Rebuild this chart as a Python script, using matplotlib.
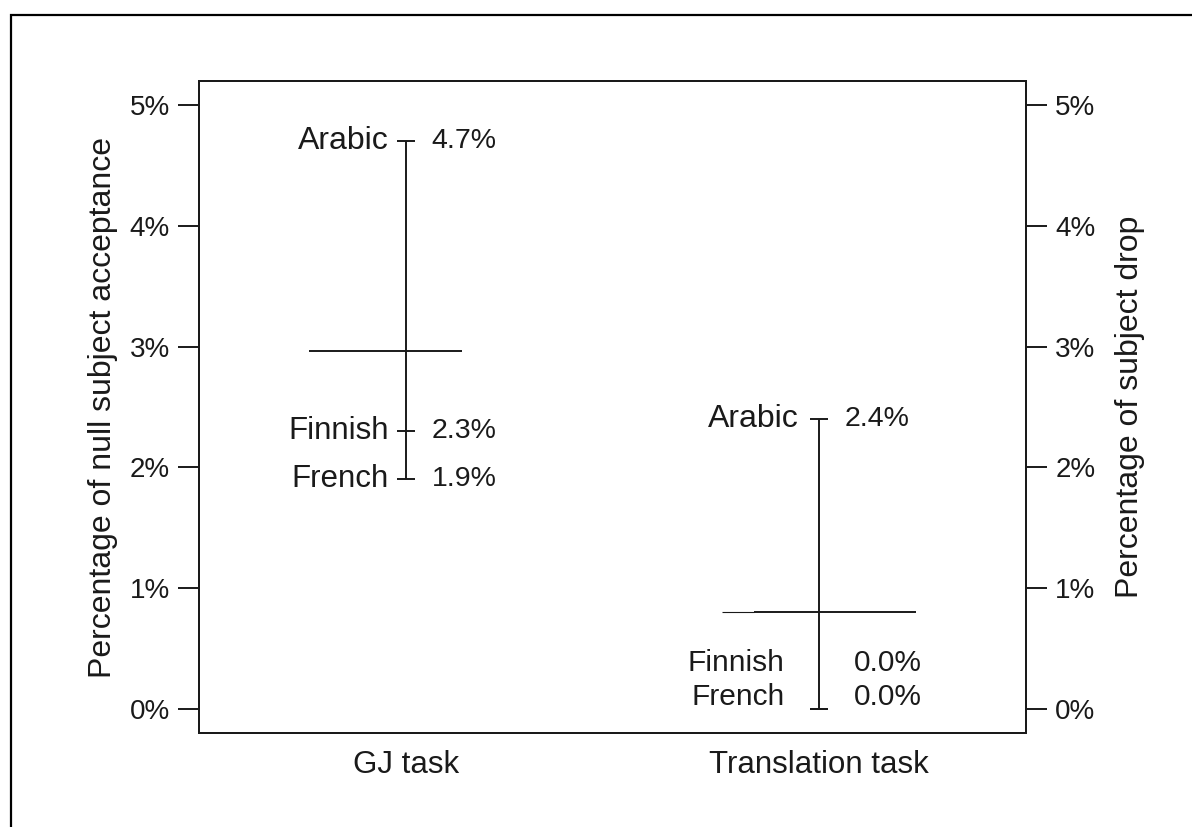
import matplotlib
matplotlib.use("Agg")
import matplotlib.pyplot as plt
from matplotlib.patches import Rectangle
import numpy as np

plt.rcParams['font.family'] = ['Liberation Sans', 'DejaVu Sans']

tasks = ["GJ task", "Translation task"]
languages = ["Arabic", "Finnish", "French"]
gj_values = [4.7, 2.3, 1.9]
translation_values = [2.4, 0.0, 0.0]
yticks = [0, 1, 2, 3, 4, 5]
ytick_labels = ["0%", "1%", "2%", "3%", "4%", "5%"]
left_label = "Percentage of null subject acceptance"
right_label = "Percentage of subject drop"

W, H = 1192, 827
fig = plt.figure(figsize=(W / 100, H / 100), dpi=100)
ax = fig.add_axes([199 / W, 1 - 733 / H, (1026 - 199) / W, (733 - 81) / H])

ink = "#1a1a1a"
lw = 1.4

series = [gj_values, translation_values]
# label vertical offsets in pixels (style only)
label_dy = [[0, 0, 0], [0, 46, 12]]
name_dx = [[-17, -17, -17], [-21, -35, -35]]
val_dx = [[26, 26, 26], [25, 35, 35]]
name_fs = [[23, 22.5, 22.5], [23, 21.5, 21.5]]
val_fs = [[20.5, 20.5, 20.5], [20.5, 21.5, 21.5]]
mean_span = [[(-0.234, 0.137, lw)], [(-0.234, -0.157, 0.8), (-0.157, 0.234, lw)]]

for i, vals in enumerate(series):
    x = i + 1
    vals = np.array(vals)
    ax.plot([x, x], [vals.min(), vals.max()], color=ink, lw=lw, solid_capstyle='butt')
    ax.plot([x] * len(vals), vals, linestyle='none', marker='_', markersize=13,
            markeredgewidth=lw, color=ink)
    m = vals.mean()
    for a, b, w in mean_span[i]:
        ax.plot([x + a, x + b], [m, m], color=ink, lw=w, solid_capstyle='butt')
    for j, (lang, v) in enumerate(zip(languages, vals)):
        ax.annotate(lang, (x, v), xytext=(name_dx[i][j], label_dy[i][j]),
                    textcoords='offset pixels', ha='right', va='center',
                    fontsize=name_fs[i][j], color=ink)
        ax.annotate(f"{v:.1f}%", (x, v), xytext=(val_dx[i][j], label_dy[i][j]),
                    textcoords='offset pixels', ha='left', va='center',
                    fontsize=val_fs[i][j], color=ink)

ax.set_xlim(0.5, 2.5)
ax.set_ylim(-0.2, 5.2)
ax.set_xticks([1, 2])
ax.set_xticklabels(tasks, fontsize=22.5, color=ink)
ax.tick_params(axis='x', length=0, pad=12)
ax.set_yticks(yticks)
ax.set_yticklabels(ytick_labels, fontsize=20, color=ink)
ax.tick_params(axis='y', length=15, width=lw, color=ink, pad=6, direction='out')
ax.set_ylabel(left_label, fontsize=23, color=ink, labelpad=8)
for s in ax.spines.values():
    s.set_linewidth(lw)
    s.set_color(ink)

ax2 = ax.twinx()
ax2.set_ylim(-0.2, 5.2)
ax2.set_yticks(yticks)
ax2.set_yticklabels(ytick_labels, fontsize=20, color=ink)
ax2.tick_params(axis='y', length=15, width=lw, color=ink, pad=6, direction='out')
ax2.set_ylabel(right_label, fontsize=23, color=ink, labelpad=14)
for s in ax2.spines.values():
    s.set_linewidth(lw)
    s.set_color(ink)

fig.patches.append(Rectangle((11 / W, -0.1), 1.2, 1 - 15 / H + 0.1,
                             transform=fig.transFigure, fill=False,
                             edgecolor='black', linewidth=1.6))

fig.savefig("out.png", dpi=100)
